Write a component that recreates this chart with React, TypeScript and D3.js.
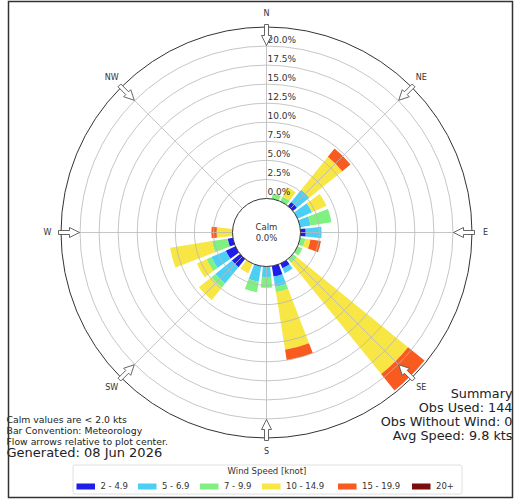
import React from "react";
import * as d3 from "d3";

// ---- data (percent of 144 observations) ----
const bearings = [0, 15, 30, 45, 60, 75, 90, 105, 120, 135, 150, 165, 180, 195, 210, 225, 240, 255, 270, 285, 300, 315, 330, 345];
const speedBins = ["2 - 4.9", "5 - 6.9", "7 - 9.9", "10 - 14.9", "15 - 19.9", "20+"];
const binColors = ["#1e1ee8", "#4ccff5", "#80f080", "#f7e643", "#f95a1f", "#7b0d0d"];
const s2_4 =   [0, 0, 0, 0.69, 0, 0, 0.69, 0, 0, 0, 0.69, 1.39, 0, 0, 0, 1.39, 1.39, 0.69, 0, 0, 0, 0, 0, 0];
const s5_6 =   [0, 0, 0, 2.08, 2.08, 1.39, 2.08, 0, 0, 0, 0.69, 1.39, 1.39, 2.08, 0, 2.78, 2.08, 0, 0, 0, 0, 0, 0, 0];
const s7_9 =   [0, 0.69, 0.69, 0, 0, 2.78, 0, 0.69, 0.69, 0.69, 0, 0.69, 1.39, 1.39, 0, 0.69, 0.69, 2.08, 0, 0, 0, 0, 0, 0];
const s10_14 = [0, 0, 1.39, 5.56, 2.08, 0, 0, 0.69, 0, 18.75, 0, 7.64, 0, 0, 1.39, 2.08, 1.39, 5.56, 2.08, 0, 0, 0, 0, 0];
const s15_19 = [0, 0, 0, 1.39, 0, 0, 0, 1.39, 0, 2.78, 0, 1.39, 0, 0, 0, 0, 0, 0, 0.69, 0, 0, 0, 0, 0];
const s20p =   [0, 0, 0, 0, 0, 0, 0, 0, 0, 0, 0, 0, 0, 0, 0, 0, 0, 0, 0, 0, 0, 0, 0, 0];
const ringTicks = [0, 2.5, 5, 7.5, 10, 12.5, 15, 17.5, 20];
const compass = ["N", "NE", "E", "SE", "S", "SW", "W", "NW"];
const notes = ["Calm values are < 2.0 kts", "Bar Convention: Meteorology", "Flow arrows relative to plot center."];
const generated = "Generated: 08 Jun 2026";
const summary = ["Summary", "Obs Used: 144", "Obs Without Wind: 0", "Avg Speed: 9.8 kts"];
const calmPct = "0.0%";

const series = [s2_4, s5_6, s7_9, s10_14, s15_19, s20p];

export default function App() {
  const W = 515, H = 503;
  const cx = 266.5, cy = 232.5;
  const rScale = d3.scaleLinear().domain([0, 22.5]).range([34, 205.5]);
  const rOuter = rScale(22.5);
  const rCalm = rScale(0);
  const halfW = (12 / 2) * Math.PI / 180;
  const arc = d3.arc();
  const font = "DejaVu Sans, sans-serif";

  const bars: JSX.Element[] = [];
  bearings.forEach((b, i) => {
    let cum = 0;
    const a = b * Math.PI / 180;
    series.forEach((s, k) => {
      const v = s[i];
      if (v > 0) {
        const d = arc({ innerRadius: rScale(cum), outerRadius: rScale(cum + v), startAngle: a - halfW, endAngle: a + halfW }) as string;
        bars.push(<path key={`b${i}-${k}`} d={d} transform={`translate(${cx},${cy})`} fill={binColors[k]} />);
      }
      cum += v;
    });
  });

  const pt = (deg: number, r: number, v = 0) => {
    const a = deg * Math.PI / 180;
    return [cx + r * Math.sin(a) + v * Math.cos(a), cy - r * Math.cos(a) + v * Math.sin(a)];
  };

  const arrow = (deg: number) => {
    const tip = 187, base = 197, tail = 208, hw = 5, sw = 2;
    const pts = [[tip, 0], [base, hw], [base, sw], [tail, sw], [tail, -sw], [base, -sw], [base, -hw]].map(([u, v]) => pt(deg, u, v));
    return pts.map((p) => p.join(",")).join(" ");
  };

  const legendX = [76.5, 138, 200, 262, 338, 412];

  return (
    <svg width={W} height={H} style={{ position: "absolute", left: 0, top: 0, background: "#fff" }} fontFamily={font}>
      <rect x={0} y={0} width={W} height={H} fill="#fff" />
      {bars}
      {/* grid rings */}
      {ringTicks.slice(1).map((t) => (
        <circle key={`g${t}`} cx={cx} cy={cy} r={rScale(t)} fill="none" stroke="#b8b8b8" strokeWidth={0.8} />
      ))}
      {/* radial lines */}
      {d3.range(0, 360, 45).map((deg) => {
        const [x1, y1] = pt(deg, rCalm);
        const [x2, y2] = pt(deg, rOuter);
        return <line key={`rl${deg}`} x1={x1} y1={y1} x2={x2} y2={y2} stroke="#b8b8b8" strokeWidth={0.8} />;
      })}
      <circle cx={cx} cy={cy} r={rOuter} fill="none" stroke="#333" strokeWidth={1} />
      {/* calm circle */}
      <circle cx={cx} cy={cy} r={rCalm} fill="#fff" stroke="#333" strokeWidth={1} />
      <text x={cx} y={cy - 3} textAnchor="middle" fontSize={8.5} fill="#333">Calm</text>
      <text x={cx} y={cy + 8} textAnchor="middle" fontSize={8.5} fill="#333">{calmPct}</text>
      {/* ring labels */}
      {ringTicks.map((t) => (
        <text key={`rl${t}`} x={cx + 1} y={cy - rScale(t) - 6} dominantBaseline="middle" fontSize={9} fill="#333">
          {t.toFixed(1) + "%"}
        </text>
      ))}
      {/* arrows */}
      {d3.range(0, 360, 45).map((deg) => (
        <polygon key={`ar${deg}`} points={arrow(deg)} fill="#fff" stroke="#555" strokeWidth={0.9} strokeLinejoin="miter" />
      ))}
      {/* compass labels */}
      {compass.map((c, i) => {
        const [x, y] = pt(i * 45, 219);
        return (
          <text key={c} x={x} y={y} textAnchor="middle" dominantBaseline="middle" fontSize={8} fill="#333">{c}</text>
        );
      })}
      {/* notes */}
      {notes.map((n, i) => (
        <text key={n} x={6.5} y={[420.5, 431.5, 442][i]} dominantBaseline="middle" fontSize={9.3} fill="#222">{n}</text>
      ))}
      <text x={6.5} y={453.5} dominantBaseline="middle" fontSize={13} fill="#222">{generated}</text>
      {summary.map((s, i) => (
        <text key={s} x={512.5} y={394 + i * 14.2} textAnchor="end" dominantBaseline="middle" fontSize={12.8} fill="#222">{s}</text>
      ))}
      {/* legend */}
      <rect x={73} y={465} width={389} height={29} rx={2} fill="#fff" stroke="#d8d8d8" strokeWidth={0.8} />
      <text x={267} y={471.5} textAnchor="middle" dominantBaseline="middle" fontSize={8.5} fill="#333">Wind Speed [knot]</text>
      {speedBins.map((s, i) => (
        <g key={s}>
          <rect x={legendX[i]} y={483.5} width={18.5} height={6} fill={binColors[i]} />
          <text x={legendX[i] + 24} y={486.5} dominantBaseline="middle" fontSize={8.5} fill="#333">{s}</text>
        </g>
      ))}
      {/* frame */}
      <rect x={8.5} y={1.5} width={504} height={496} fill="none" stroke="#333" strokeWidth={1.5} />
    </svg>
  );
}
